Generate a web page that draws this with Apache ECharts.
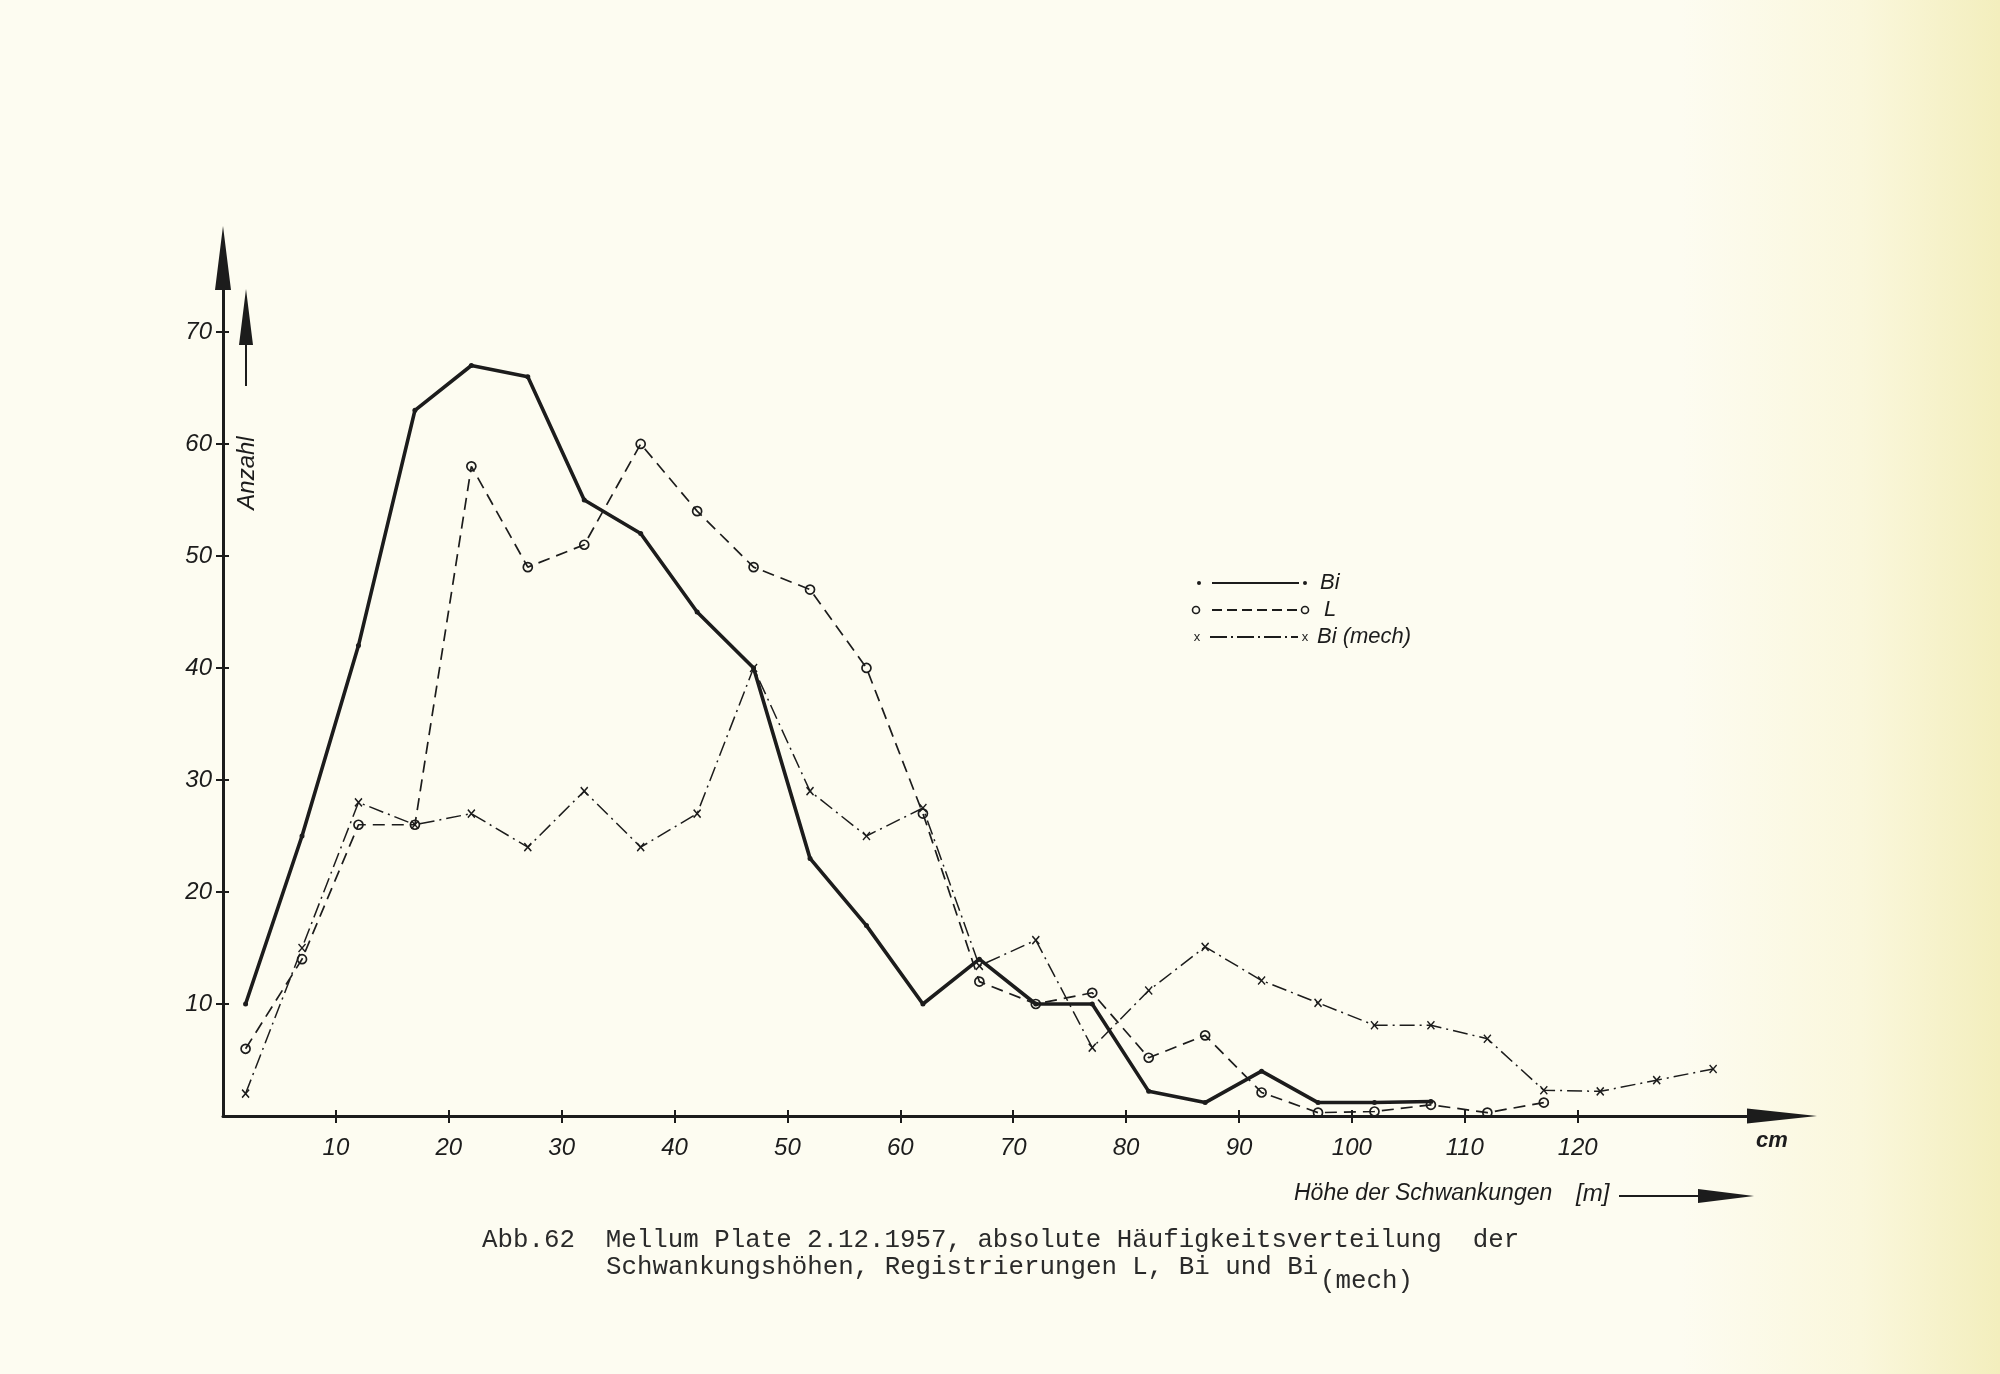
<!DOCTYPE html>
<html>
<head>
<meta charset="utf-8">
<script src="https://cdn.jsdelivr.net/npm/echarts@6/dist/echarts.min.js"></script>
<style>
  html, body { margin: 0; padding: 0; }
  body { width: 2000px; height: 1374px; background: linear-gradient(to right, #fdfcf1 0%, #fdfcf1 84%, #faf7dc 93%, #f3eebd 100%); }
  #chart { width: 2000px; height: 1374px; }
</style>
</head>
<body>
<div id="chart"></div>
<script>
// Class midpoints (cm) of the fluctuation heights
const classMids = [2, 7, 12, 17, 22, 27, 32, 37, 42, 47, 52, 57, 62, 67, 72, 77, 82, 87, 92, 97, 102, 107, 112, 117, 122, 127, 132];
// Counts (Anzahl)
const biValues = [10, 25, 42, 63, 67, 66, 55, 52, 45, 40, 23, 17, 10, 14, 10, 10, 2.2, 1.2, 4, 1.2, 1.2, 1.3];
const lValues = [6, 14, 26, 26, 58, 49, 51, 60, 54, 49, 47, 40, 27, 12, 10, 11, 5.2, 7.2, 2.1, 0.3, 0.4, 1, 0.3, 1.2];
const biMechValues = [2, 15, 28, 26, 27, 24, 29, 24, 27, 40, 29, 25, 27.5, 13.4, 15.7, 6.1, 11.2, 15.1, 12.1, 10.1, 8.1, 8.1, 6.9, 2.3, 2.2, 3.2, 4.2];
const xTickValues = [10, 20, 30, 40, 50, 60, 70, 80, 90, 100, 110, 120];
const yTickValues = [10, 20, 30, 40, 50, 60, 70];
const seriesNames = ['Bi', 'L', 'Bi (mech)'];

const ink = '#1c1c1c';
const pairs = vals => vals.map((v, i) => [classMids[i], v]);

const chart = echarts.init(document.getElementById('chart'), null, { renderer: 'canvas' });

const tickFont = { fontFamily: 'Liberation Sans', fontStyle: 'italic', fontSize: 24, color: ink };

chart.setOption({
  backgroundColor: 'transparent',
  animation: false,
  grid: { left: 223, right: 218, top: 258, bottom: 258, containLabel: false, outerBoundsMode: 'none' },
  xAxis: [{
    type: 'value', min: 0, max: 138.1, position: 'bottom',
    axisLine: { show: true, lineStyle: { color: ink, width: 3 }, symbol: ['none', 'triangle'], symbolSize: [15, 70] },
    axisTick: { show: true, length: 7, lineStyle: { color: ink, width: 2 }, customValues: xTickValues },
    axisLabel: Object.assign({ show: true, margin: 20, customValues: xTickValues }, tickFont),
    splitLine: { show: false }
  }, {
    type: 'value', min: 0, max: 138.1, position: 'bottom',
    axisLine: { show: false },
    axisTick: { show: true, inside: true, length: 6, lineStyle: { color: ink, width: 2 }, customValues: xTickValues },
    axisLabel: { show: false },
    splitLine: { show: false }
  }],
  yAxis: [{
    type: 'value', min: 0, max: 76.6, position: 'left',
    axisLine: { show: true, lineStyle: { color: ink, width: 3 }, symbol: ['none', 'triangle'], symbolSize: [16, 64] },
    axisTick: { show: true, length: 7, lineStyle: { color: ink, width: 2 }, customValues: yTickValues },
    axisLabel: Object.assign({ show: true, margin: 11, customValues: yTickValues }, tickFont),
    splitLine: { show: false }
  }, {
    type: 'value', min: 0, max: 76.6, position: 'left',
    axisLine: { show: false },
    axisTick: { show: true, inside: true, length: 6, lineStyle: { color: ink, width: 2 }, customValues: yTickValues },
    axisLabel: { show: false },
    splitLine: { show: false }
  }],
  series: [{
    name: seriesNames[0], type: 'line', data: pairs(biValues), clip: false,
    symbol: 'circle', symbolSize: 5, showSymbol: true,
    itemStyle: { color: ink },
    lineStyle: { color: ink, width: 3.6, type: 'solid' },
    z: 4
  }, {
    name: seriesNames[1], type: 'line', data: pairs(lValues), clip: false,
    symbol: 'circle', symbolSize: 9, showSymbol: true,
    itemStyle: { color: 'rgba(0,0,0,0)', borderColor: ink, borderWidth: 1.7 },
    lineStyle: { color: ink, width: 1.7, type: [12, 7] },
    z: 3
  }, {
    name: seriesNames[2], type: 'line', data: pairs(biMechValues), clip: false,
    symbol: 'path://M0,0L10,12M10,0L0,12', symbolSize: [7, 8], showSymbol: true,
    itemStyle: { color: 'rgba(0,0,0,0)', borderColor: ink, borderWidth: 1.5 },
    lineStyle: { color: ink, width: 1.5, type: [15, 5, 2, 5] },
    z: 3
  }],
  graphic: [
    // y-axis title with arrow
    { type: 'line', shape: { x1: 246, y1: 386, x2: 246, y2: 335 }, style: { stroke: ink, lineWidth: 2 } },
    { type: 'polygon', shape: { points: [[246, 289], [239, 345], [253, 345]] }, style: { fill: ink } },
    { type: 'text', x: 247, y: 473, rotation: Math.PI / 2,
      style: { text: 'Anzahl', font: 'italic 24px "Liberation Sans"', fill: ink, textAlign: 'center', textVerticalAlign: 'middle', align: 'center', verticalAlign: 'middle' } },
    // unit
    { type: 'text', x: 1772, y: 1141,
      style: { text: 'cm', font: 'italic bold 22px "Liberation Sans"', fill: ink, textAlign: 'center', textVerticalAlign: 'middle', align: 'center', verticalAlign: 'middle' } },
    // x-axis title with arrow
    { type: 'text', x: 1294, y: 1194,
      style: { text: 'Höhe der Schwankungen', font: 'italic 23px "Liberation Sans"', fill: ink, textAlign: 'left', textVerticalAlign: 'middle', align: 'left', verticalAlign: 'middle' } },
    { type: 'text', x: 1576, y: 1194,
      style: { text: '[m]', font: 'italic 24px "Liberation Sans"', fill: ink, textAlign: 'left', textVerticalAlign: 'middle', align: 'left', verticalAlign: 'middle' } },
    { type: 'line', shape: { x1: 1619, y1: 1196, x2: 1702, y2: 1196 }, style: { stroke: ink, lineWidth: 2 } },
    { type: 'polygon', shape: { points: [[1754, 1196], [1698, 1189], [1698, 1203]] }, style: { fill: ink } },
    // legend
    { type: 'circle', shape: { cx: 1199, cy: 583, r: 2 }, style: { fill: ink } },
    { type: 'line', shape: { x1: 1212, y1: 583, x2: 1299, y2: 583 }, style: { stroke: ink, lineWidth: 2.2 } },
    { type: 'circle', shape: { cx: 1305, cy: 583, r: 2 }, style: { fill: ink } },
    { type: 'text', x: 1320, y: 583,
      style: { text: seriesNames[0], font: 'italic 500 22px "Liberation Sans"', fill: ink, textAlign: 'left', textVerticalAlign: 'middle', align: 'left', verticalAlign: 'middle' } },
    { type: 'circle', shape: { cx: 1196, cy: 610, r: 3.5 }, style: { fill: 'none', stroke: ink, lineWidth: 1.6 } },
    { type: 'line', shape: { x1: 1212, y1: 610, x2: 1300, y2: 610 }, style: { stroke: ink, lineWidth: 1.8, lineDash: [10, 5] } },
    { type: 'circle', shape: { cx: 1305, cy: 610, r: 3.5 }, style: { fill: 'none', stroke: ink, lineWidth: 1.6 } },
    { type: 'text', x: 1324, y: 610,
      style: { text: seriesNames[1], font: 'italic 500 22px "Liberation Sans"', fill: ink, textAlign: 'left', textVerticalAlign: 'middle', align: 'left', verticalAlign: 'middle' } },
    { type: 'text', x: 1197, y: 637,
      style: { text: 'x', font: '13px "Liberation Sans"', fill: ink, textAlign: 'center', textVerticalAlign: 'middle', align: 'center', verticalAlign: 'middle' } },
    { type: 'line', shape: { x1: 1210, y1: 637, x2: 1298, y2: 637 }, style: { stroke: ink, lineWidth: 1.8, lineDash: [17, 4, 2, 4] } },
    { type: 'text', x: 1305, y: 637,
      style: { text: 'x', font: '13px "Liberation Sans"', fill: ink, textAlign: 'center', textVerticalAlign: 'middle', align: 'center', verticalAlign: 'middle' } },
    { type: 'text', x: 1317, y: 637,
      style: { text: seriesNames[2], font: 'italic 500 22px "Liberation Sans"', fill: ink, textAlign: 'left', textVerticalAlign: 'middle', align: 'left', verticalAlign: 'middle' } },
    // caption
    { type: 'text', x: 482, y: 1240,
      style: { text: 'Abb.62  Mellum Plate 2.12.1957, absolute Häufigkeitsverteilung  der', font: '25.8px "Liberation Mono"', fill: '#2a2a2a', textAlign: 'left', textVerticalAlign: 'middle', align: 'left', verticalAlign: 'middle' } },
    { type: 'text', x: 606, y: 1267,
      style: { text: 'Schwankungshöhen, Registrierungen L, Bi und Bi', font: '25.8px "Liberation Mono"', fill: '#2a2a2a', textAlign: 'left', textVerticalAlign: 'middle', align: 'left', verticalAlign: 'middle' } },
    { type: 'text', x: 1320, y: 1281,
      style: { text: '(mech)', font: '25.8px "Liberation Mono"', fill: '#2a2a2a', textAlign: 'left', textVerticalAlign: 'middle', align: 'left', verticalAlign: 'middle' } }
  ]
});
</script>
</body>
</html>
